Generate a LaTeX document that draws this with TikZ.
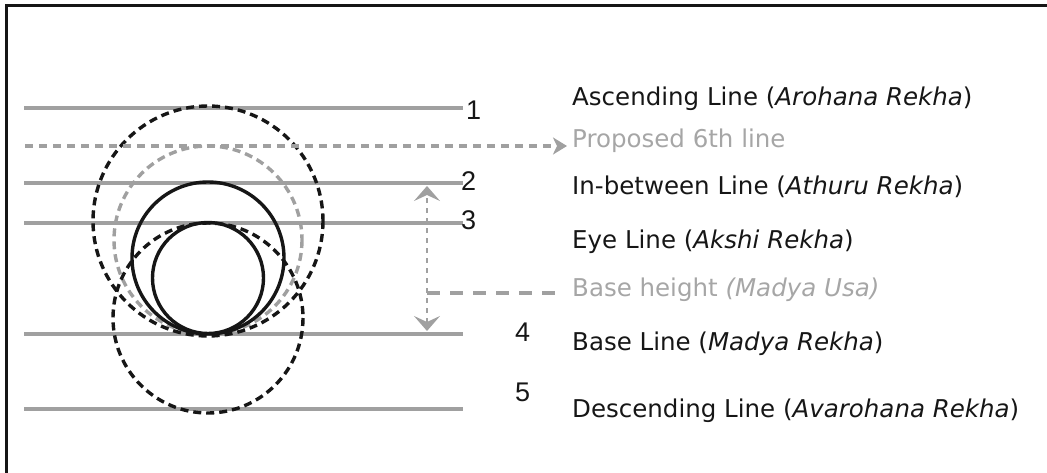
\documentclass[tikz,border=0pt]{standalone}
\usepackage{fontspec}
\setmainfont{DejaVu Sans}
\newfontfamily\digitfont{Liberation Sans}
\usetikzlibrary{arrows.meta}
\definecolor{guidegray}{HTML}{A0A0A0}
\definecolor{labelgray}{HTML}{A6A6A6}
\definecolor{ink}{HTML}{161616}

\begin{document}
\begin{tikzpicture}[x=1pt,y=-1pt,
  frame/.style={draw=ink, line width=3pt},
  guide/.style={draw=guidegray, line width=3.4pt},
  solidring/.style={draw=ink, line width=3.4pt},
  dashring/.style={draw=ink, line width=3.4pt, dash pattern=on 8pt off 5pt},
  grayring/.style={draw=guidegray, line width=3.4pt, dash pattern=on 8pt off 5pt},
  proposal/.style={draw=guidegray, line width=3.4pt, dash pattern=on 8pt off 6pt,
    -{Stealth[length=14pt,width=17pt,inset=4pt,fill=guidegray]}},
  span/.style={draw=guidegray, line width=2.8pt, dash pattern=on 5pt off 5pt,
    {Stealth[length=15pt,width=26pt,inset=6pt,fill=guidegray]}-{Stealth[length=15pt,width=26pt,inset=6pt,fill=guidegray]}},
  leader/.style={draw=guidegray, line width=3.4pt, dash pattern=on 13pt off 10pt},
  num/.style={font=\digitfont\fontsize{27}{32}\selectfont, text=ink, inner sep=0pt, anchor=base west},
  label/.style={font=\fontsize{24.5}{30}\selectfont, text=ink, inner sep=0pt, anchor=base west},
  graylabel/.style={label, text=labelgray}]
\useasboundingbox (0,0) rectangle (1047,473);

% open frame: left and top edges
\coordinate (fbl) at (6,480);
\coordinate (ftl) at (6,6);
\coordinate (ftr) at (1060,6);
\draw[frame] (fbl) -- (ftl) -- (ftr);

% the five guide lines
\foreach \n/\y in {1/108, 2/183, 3/223, 4/334, 5/409} {
  \coordinate (l\n a) at (24,\y);
  \coordinate (l\n b) at (463,\y);
  \draw[guide] (l\n a) -- (l\n b);
}

% circles
\coordinate (cA) at (208,221);
\coordinate (cB) at (208,240);
\coordinate (cC) at (208,258);
\coordinate (cD) at (208,278);
\coordinate (cE) at (208,318);
\draw[grayring] (cB) circle[radius=94];
\draw[dashring] (cA) circle[radius=115];
\draw[dashring] (cE) circle[radius=95];
\draw[solidring] (cC) circle[radius=76];
\draw[solidring] (cD) circle[radius=55.5];

% proposed sixth line
\coordinate (p0) at (25,146);
\coordinate (p1) at (567,146);
\draw[proposal] (p0) -- (p1);

% base height span and its leader
\coordinate (htop) at (427,186);
\coordinate (hbot) at (427,331);
\coordinate (hmid) at (427,293);
\coordinate (hend) at (560,293);
\draw[span] (hbot) -- (htop);
\draw[leader] (hmid) -- (hend);

% line numbers
\node[num] (n1) at (466,120) {1};
\node[num] (n2) at (461,191) {2};
\node[num] (n3) at (461,230) {3};
\node[num] (n4) at (515,341) {4};
\node[num] (n5) at (515,401) {5};

% labels
\node[label] (t1) at (572,106) {Ascending Line (\textit{Arohana Rekha})};
\node[graylabel] (t6) at (572,148) {Proposed 6th line};
\node[label] (t2) at (572,195) {In-between Line (\textit{Athuru Rekha})};
\node[label] (t3) at (572,248) {Eye Line (\textit{Akshi Rekha})};
\node[graylabel] (tb) at (572,296) {Base height \textit{(Madya Usa)}};
\node[label] (t4) at (572,350) {Base Line (\textit{Madya Rekha})};
\node[label] (t5) at (572,417) {Descending Line (\textit{Avarohana Rekha})};
\end{tikzpicture}
\end{document}
